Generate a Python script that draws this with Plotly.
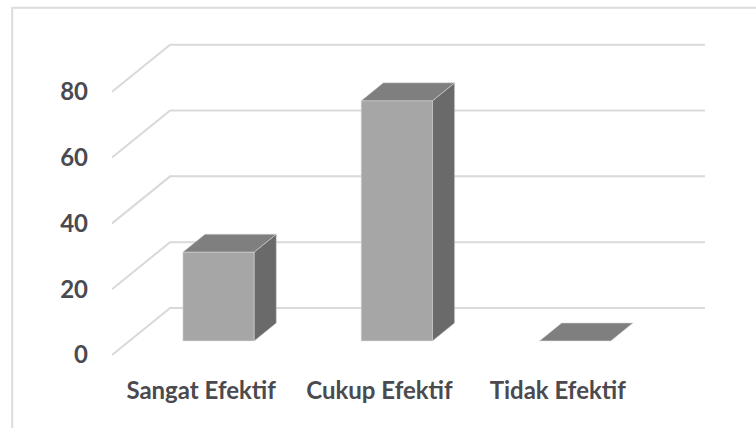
import plotly.graph_objects as go

# Data
categories = ["Sangat Efektif", "Cukup Efektif", "Tidak Efektif"]
values = [27, 73, 0]
y_ticks = [0, 20, 40, 60, 80]

# Oblique (Excel-style) 3D projection: full depth shift in axis units
DEPTH_DX = 0.326   # category units
DEPTH_DY = 14.3    # value units
BAR_Z0, BAR_Z1 = 0.30, 0.68   # bar depth position (fraction of floor depth)
BAR_X0, BAR_X1 = 0.30, 0.70   # bar width inside its category slot

GRID = "#d9d9d9"
FRONT = "#a6a6a6"
TOP = "#7f7f7f"
SIDE = "#6a6a6a"
TEXT = "#4a4a4f"

fig = go.Figure()


def shift(x, y, z):
    return x + z * DEPTH_DX, y + z * DEPTH_DY


# Floor/wall gridlines: diagonal on the side wall, horizontal on the back wall
n = len(categories)
for v in y_ticks:
    xa, ya = shift(0, v, 0)
    xb, yb = shift(0, v, 1)
    xc, yc = shift(n, v, 1)
    fig.add_trace(go.Scatter(
        x=[xa, xb, xc], y=[ya, yb, yc], mode="lines",
        line=dict(color=GRID, width=2), hoverinfo="skip", showlegend=False))


def face(pts, color):
    xs = [p[0] for p in pts] + [pts[0][0]]
    ys = [p[1] for p in pts] + [pts[0][1]]
    fig.add_trace(go.Scatter(
        x=xs, y=ys, mode="lines", fill="toself", fillcolor=color,
        line=dict(color="rgba(215,215,215,0.7)", width=0.8),
        hoverinfo="skip", showlegend=False))


# 3D columns
for i, v in enumerate(values):
    x0, x1 = i + BAR_X0, i + BAR_X1
    if v > 0:
        front = [shift(x0, 0, BAR_Z0), shift(x1, 0, BAR_Z0),
                 shift(x1, v, BAR_Z0), shift(x0, v, BAR_Z0)]
        face(front, FRONT)
        side = [shift(x1, 0, BAR_Z0), shift(x1, 0, BAR_Z1),
                shift(x1, v, BAR_Z1), shift(x1, v, BAR_Z0)]
        face(side, SIDE)
    top = [shift(x0, v, BAR_Z0), shift(x1, v, BAR_Z0),
           shift(x1, v, BAR_Z1), shift(x0, v, BAR_Z1)]
    face(top, TOP)

# Chart frame (left and top edges visible)
fig.add_shape(type="rect", xref="paper", yref="paper",
              x0=-0.155, x1=1.02, y0=-0.2, y1=0.979,
              line=dict(color="#dcdcdc", width=2), layer="below")

label_font = dict(family="Lato", size=24, color=TEXT, weight="bold")

fig.update_layout(
    width=756, height=428,
    margin=dict(l=112, r=0, t=0, b=58),
    paper_bgcolor="white", plot_bgcolor="white",
    xaxis=dict(range=[0, 3.612], tickvals=[i + 0.5 for i in range(n)],
               ticktext=categories, showgrid=False, zeroline=False,
               showline=False, ticks="", tickfont=label_font,
               ticklabelstandoff=4, fixedrange=True),
    yaxis=dict(range=[-4.56, 107.9], tickvals=y_ticks,
               ticktext=[str(t) for t in y_ticks], showgrid=False,
               zeroline=False, showline=False, ticks="",
               tickfont=label_font, ticklabelstandoff=23, fixedrange=True),
)

fig.write_html("out.html")
